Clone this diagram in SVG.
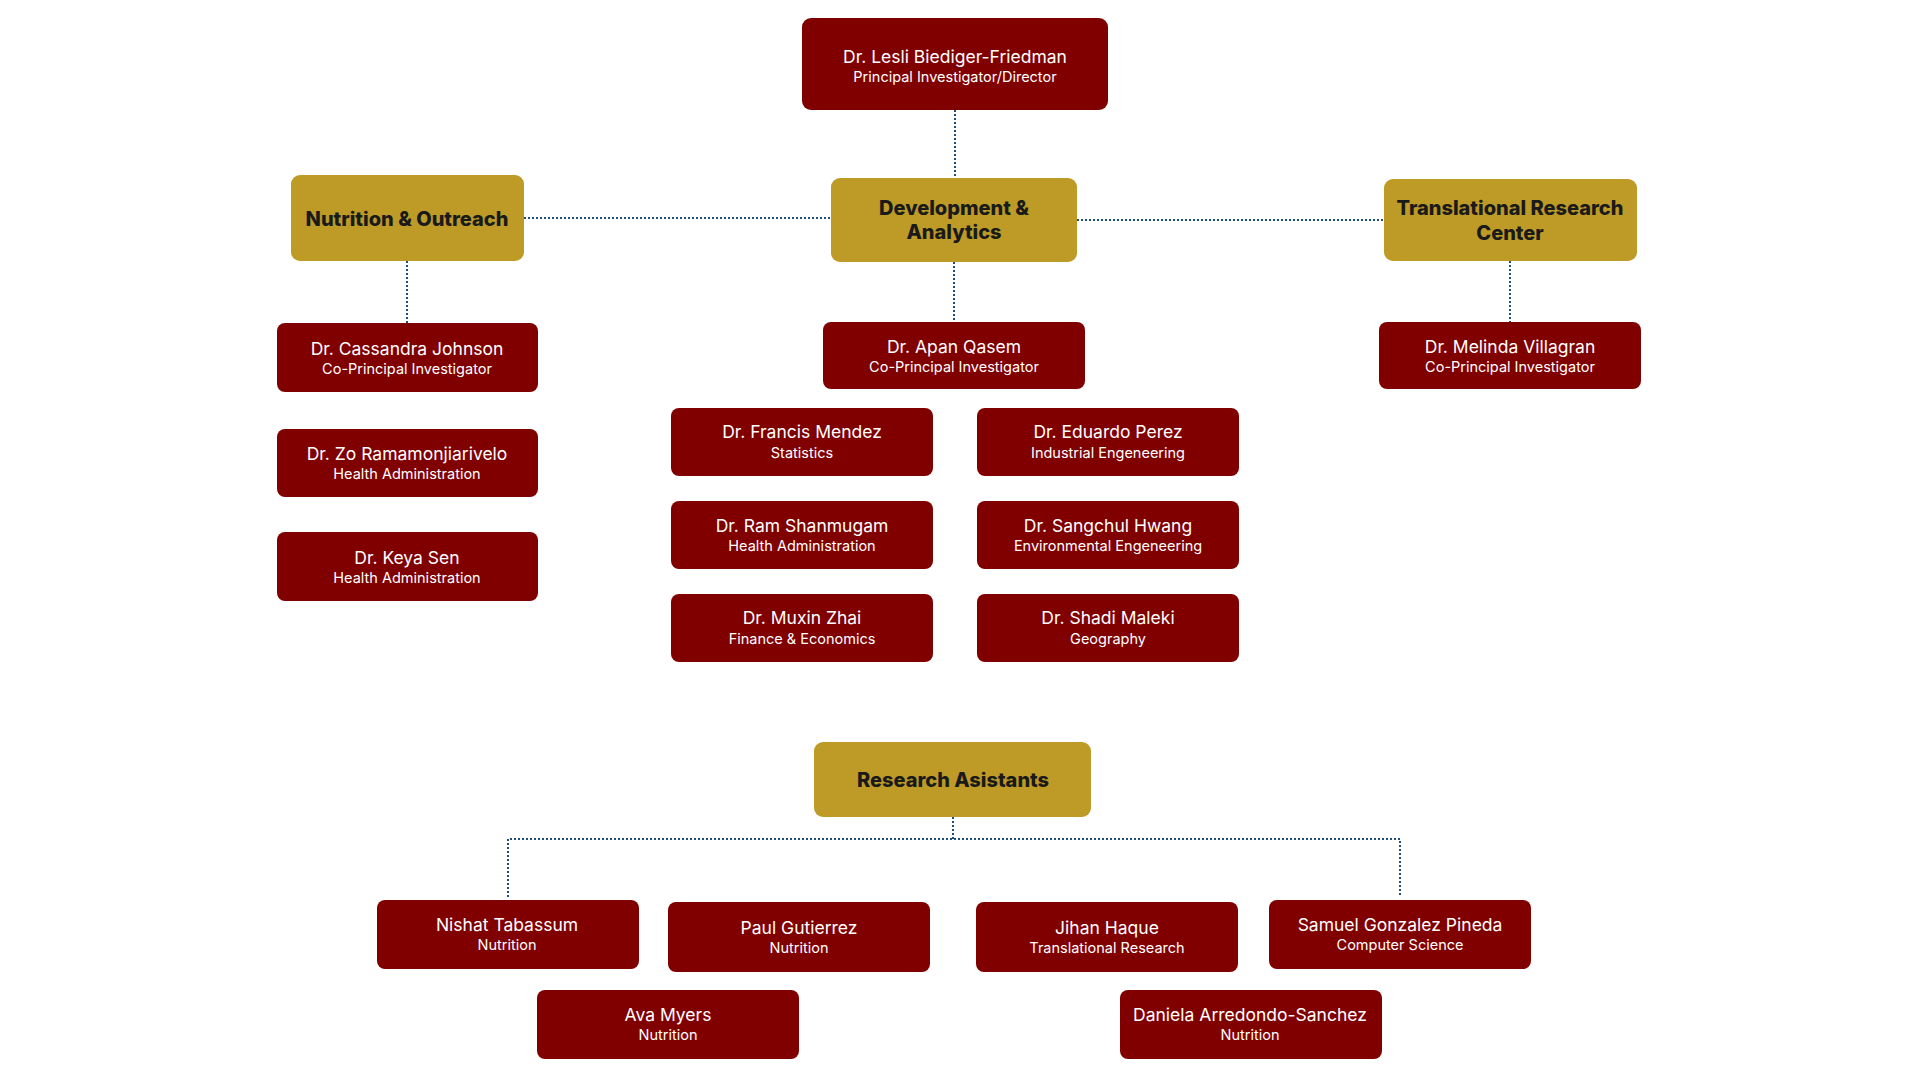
<svg xmlns="http://www.w3.org/2000/svg" width="1920" height="1080" viewBox="0 0 1920 1080">
<style>
.bg{fill:#ffffff}
.p rect{fill:#800000}
.g rect{fill:#BD9B26}
.n{font-family:Inter,"Noto Sans","Liberation Sans",sans-serif;font-size:17.5px;fill:#ffffff;text-anchor:middle}
.s{font-family:Inter,"Noto Sans","Liberation Sans",sans-serif;font-size:14.5px;fill:#ffffff;text-anchor:middle}
.h{font-family:Inter,"Noto Sans","Liberation Sans",sans-serif;font-size:20px;font-weight:800;fill:#1a1a1a;text-anchor:middle}
.c{fill:none;stroke:#1F4E79;stroke-width:2;stroke-dasharray:2 2}
</style>
<rect class="bg" x="0" y="0" width="1920" height="1080"/>
<g id="connectors">
<path class="c" d="M955 110 V178"/>
<path class="c" d="M524 218 H831"/>
<path class="c" d="M1077 220 H1384"/>
<path class="c" d="M407 261 V323"/>
<path class="c" d="M954 262 V322"/>
<path class="c" d="M1510 261 V322"/>
<path class="c" d="M953 817 V839"/>
<path class="c" d="M508 897 V839 H1400 V897"/>
</g>
<g id="director" class="p"><rect x="802" y="18" width="306" height="92" rx="9"/><text class="n" x="955" y="63">Dr. Lesli Biediger-Friedman</text><text class="s" x="955" y="82">Principal Investigator/Director</text></g>
<g id="nutrition" class="g"><rect x="291" y="175" width="233" height="86" rx="9"/><text class="h" x="407" y="226">Nutrition &amp; Outreach</text></g>
<g id="development" class="g"><rect x="831" y="178" width="246" height="84" rx="9"/><text class="h" x="954" y="215">Development &amp;</text><text class="h" x="954" y="239">Analytics</text></g>
<g id="translational" class="g"><rect x="1384" y="179" width="253" height="82" rx="9"/><text class="h" x="1510" y="215">Translational Research</text><text class="h" x="1510" y="240">Center</text></g>
<g id="cassandra" class="p"><rect x="277" y="323" width="261" height="69" rx="8"/><text class="n" x="407" y="355">Dr. Cassandra Johnson</text><text class="s" x="407" y="374">Co-Principal Investigator</text></g>
<g id="zo" class="p"><rect x="277" y="429" width="261" height="68" rx="8"/><text class="n" x="407" y="460">Dr. Zo Ramamonjiarivelo</text><text class="s" x="407" y="479">Health Administration</text></g>
<g id="keya" class="p"><rect x="277" y="532" width="261" height="69" rx="8"/><text class="n" x="407" y="564">Dr. Keya Sen</text><text class="s" x="407" y="583">Health Administration</text></g>
<g id="apan" class="p"><rect x="823" y="322" width="262" height="67" rx="8"/><text class="n" x="954" y="353">Dr. Apan Qasem</text><text class="s" x="954" y="372">Co-Principal Investigator</text></g>
<g id="melinda" class="p"><rect x="1379" y="322" width="262" height="67" rx="8"/><text class="n" x="1510" y="353">Dr. Melinda Villagran</text><text class="s" x="1510" y="372">Co-Principal Investigator</text></g>
<g id="francis" class="p"><rect x="671" y="408" width="262" height="68" rx="8"/><text class="n" x="802" y="438">Dr. Francis Mendez</text><text class="s" x="802" y="458">Statistics</text></g>
<g id="eduardo" class="p"><rect x="977" y="408" width="262" height="68" rx="8"/><text class="n" x="1108" y="438">Dr. Eduardo Perez</text><text class="s" x="1108" y="458">Industrial Engeneering</text></g>
<g id="ram" class="p"><rect x="671" y="501" width="262" height="68" rx="8"/><text class="n" x="802" y="532">Dr. Ram Shanmugam</text><text class="s" x="802" y="551">Health Administration</text></g>
<g id="sangchul" class="p"><rect x="977" y="501" width="262" height="68" rx="8"/><text class="n" x="1108" y="532">Dr. Sangchul Hwang</text><text class="s" x="1108" y="551">Environmental Engeneering</text></g>
<g id="muxin" class="p"><rect x="671" y="594" width="262" height="68" rx="8"/><text class="n" x="802" y="624">Dr. Muxin Zhai</text><text class="s" x="802" y="644">Finance &amp; Economics</text></g>
<g id="shadi" class="p"><rect x="977" y="594" width="262" height="68" rx="8"/><text class="n" x="1108" y="624">Dr. Shadi Maleki</text><text class="s" x="1108" y="644">Geography</text></g>
<g id="assistants" class="g"><rect x="814" y="742" width="277" height="75" rx="9"/><text class="h" x="953" y="787">Research Asistants</text></g>
<g id="nishat" class="p"><rect x="377" y="900" width="262" height="69" rx="8"/><text class="n" x="507" y="931">Nishat Tabassum</text><text class="s" x="507" y="950">Nutrition</text></g>
<g id="paul" class="p"><rect x="668" y="902" width="262" height="70" rx="8"/><text class="n" x="799" y="934">Paul Gutierrez</text><text class="s" x="799" y="953">Nutrition</text></g>
<g id="jihan" class="p"><rect x="976" y="902" width="262" height="70" rx="8"/><text class="n" x="1107" y="934">Jihan Haque</text><text class="s" x="1107" y="953">Translational Research</text></g>
<g id="samuel" class="p"><rect x="1269" y="900" width="262" height="69" rx="8"/><text class="n" x="1400" y="931">Samuel Gonzalez Pineda</text><text class="s" x="1400" y="950">Computer Science</text></g>
<g id="ava" class="p"><rect x="537" y="990" width="262" height="69" rx="8"/><text class="n" x="668" y="1021">Ava Myers</text><text class="s" x="668" y="1040">Nutrition</text></g>
<g id="daniela" class="p"><rect x="1120" y="990" width="262" height="69" rx="8"/><text class="n" x="1250" y="1021">Daniela Arredondo-Sanchez</text><text class="s" x="1250" y="1040">Nutrition</text></g>
</svg>
